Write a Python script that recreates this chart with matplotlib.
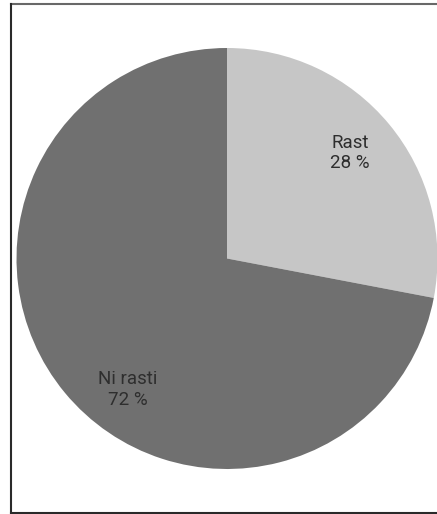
import numpy as np
import matplotlib
matplotlib.use("Agg")
import matplotlib.pyplot as plt
from matplotlib.lines import Line2D

labels = ["Rast", "Ni rasti"]
shares = [28, 72]
colors = ["#c6c6c6", "#707070"]
# label placement as (radius fraction, angle in degrees)
label_pos = [(0.77, 40.6), (0.78, -127.2)]

W, H = 437, 514
fig = plt.figure(figsize=(W / 100, H / 100), dpi=100)
fig.patch.set_facecolor("white")


def px(x, y):
    return x / W, 1 - y / H


# outer frame: grey top rule, dark left and bottom rules, open on the right
left, top, bottom = 11, 4, 512.8
for (x0, y0), (x1, y1), col in [((left, top), (W + 5, top), "#686868"),
                                ((left, top), (left, bottom), "#2a2a2a"),
                                ((left, bottom), (W - 1, bottom), "#2a2a2a")]:
    (fx0, fy0), (fx1, fy1) = px(x0, y0), px(x1, y1)
    fig.lines.append(Line2D([fx0, fx1], [fy0, fy1], transform=fig.transFigure,
                            color=col, linewidth=1.5, solid_capstyle="projecting"))

cx, cy, r = 227, 258.5, 210.5
ax = fig.add_axes([(cx - r) / W, (H - cy - r) / H, 2 * r / W, 2 * r / H])
wedges, _ = ax.pie(shares, colors=colors, startangle=90, counterclock=False,
                   radius=1, wedgeprops=dict(linewidth=0))
for w in wedges:
    w.set_clip_on(False)
ax.set_xlim(-1, 1)
ax.set_ylim(-1, 1)
ax.set_aspect("equal")
ax.axis("off")

for lab, val, (rf, ang) in zip(labels, shares, label_pos):
    a = np.deg2rad(ang)
    ax.text(rf * np.cos(a), rf * np.sin(a), f"{lab}\n{val} %", ha="center",
            va="center", fontsize=13.5, color="#2e2e2e", family="Roboto",
            linespacing=1.2)

fig.savefig("out.png", dpi=100)
